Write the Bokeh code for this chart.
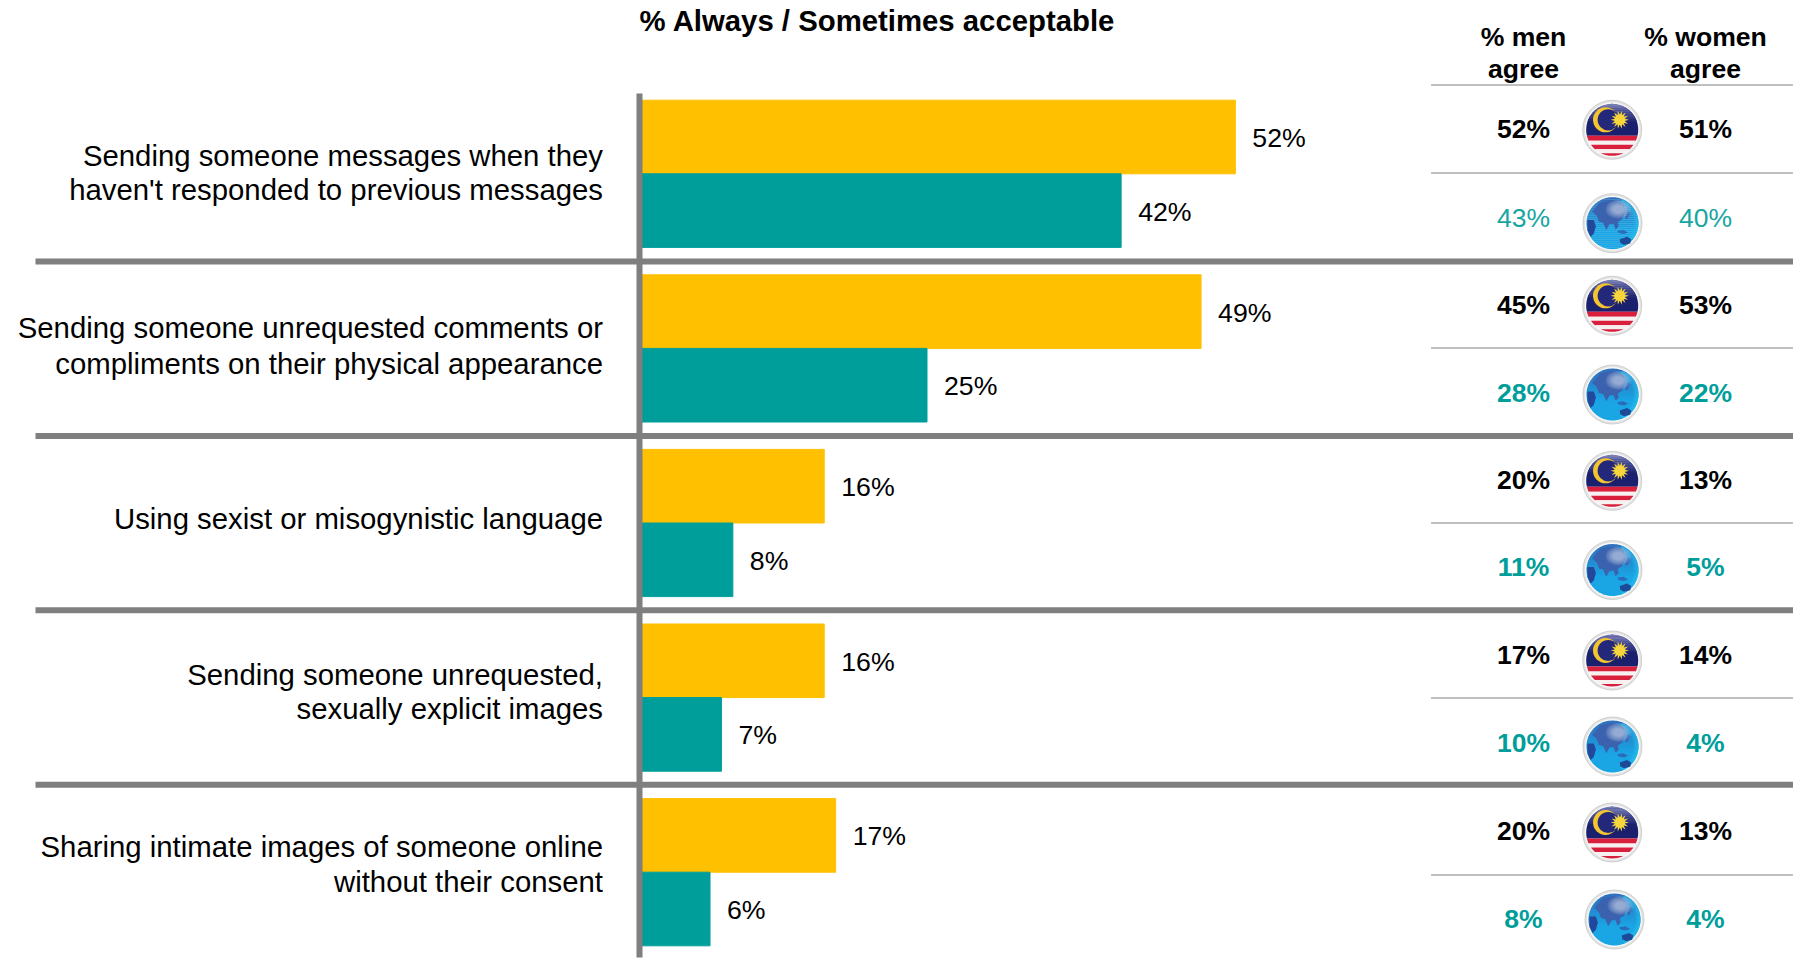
import numpy as np
from bokeh.core.properties import value
from bokeh.embed import file_html
from bokeh.models import Range1d
from bokeh.plotting import figure
from bokeh.resources import INLINE

W, H = 1793, 959
FONT = value("Liberation Sans")

statements = [
    ["Sending someone messages when they", "haven't responded to previous messages"],
    ["Sending someone unrequested comments or", "compliments on their physical appearance"],
    ["Using sexist or misogynistic language"],
    ["Sending someone unrequested,", "sexually explicit images"],
    ["Sharing intimate images of someone online", "without their consent"],
]
malaysia_total = [52, 49, 16, 16, 17]
global_total = [42, 25, 8, 7, 6]
malaysia_men = [52, 45, 20, 17, 20]
malaysia_women = [51, 53, 13, 14, 13]
global_men = [43, 28, 11, 10, 8]
global_women = [40, 22, 5, 4, 4]

YELLOW = "#FFC000"
TEAL = "#009E9B"
GREY = "#7F7F7F"
PX_PER_PCT = 11.42
ROW_PX = 174.6
SPLIT_PX = 173.3
BAR_PX = 73.6
AXIS_PX = 641.0

rows = np.arange(len(statements))
x_range = Range1d(-AXIS_PX / PX_PER_PCT, (W - AXIS_PX) / PX_PER_PCT)
y_range = Range1d((H - SPLIT_PX) / ROW_PX, -SPLIT_PX / ROW_PX)

p = figure(
    width=W, height=H, x_range=x_range, y_range=y_range,
    output_backend="svg", toolbar_location=None,
    x_axis_type="linear", min_border=0,
)
p.axis.visible = False
p.grid.visible = False
p.outline_line_color = None
p.background_fill_color = "white"
# Pixel ranges for the table, the divider rules and the round icons.
p.extra_x_ranges["px"] = Range1d(0, W)
p.extra_y_ranges["px"] = Range1d(H, 0)
PX = dict(x_range_name="px", y_range_name="px")


def label(xs, ys, texts, color="black", size="29.33px", style="normal", align="center"):
    p.text(xs, ys, text=texts, text_color=color, text_font=FONT, text_font_size=size,
           text_font_style=style, text_align=align, text_baseline="middle", **PX)


def pct(vals):
    return [f"{v}%" for v in vals]


# Bars share one value scale and sit either side of each row's split line.
bar_h = BAR_PX / ROW_PX
p.hbar(y=rows - bar_h / 2, left=0, right=malaysia_total, height=bar_h, color=YELLOW)
p.hbar(y=rows + bar_h / 2, left=0, right=global_total, height=bar_h, color=TEAL)
p.text(malaysia_total, rows - bar_h / 2, text=pct(malaysia_total), x_offset=17, y_offset=1,
       text_font=FONT, text_font_size="26.7px", text_color="black", text_baseline="middle")
p.text(global_total, rows + bar_h / 2, text=pct(global_total), x_offset=17, y_offset=1,
       text_font=FONT, text_font_size="26.7px", text_color="black", text_baseline="middle")

# Heavy rules between the statements and the vertical baseline.
rule_y = [261 + i * 174.4 for i in range(4)]
p.segment(x0=[35] * 4, x1=[W] * 4, y0=rule_y, y1=rule_y, line_color=GREY, line_width=6, **PX)
p.segment(x0=[639], x1=[639], y0=[93], y1=[957], line_color=GREY, line_width=6, **PX)

# Dotted rules of the men / women table.
dot_y = [84.5, 172.5, 347.5, 522.5, 697.5, 874.5]
p.segment(x0=[1431] * 6, x1=[W] * 6, y0=dot_y, y1=dot_y, line_color="#000000",
          line_width=1, line_dash="1 1", **PX)

# Statement labels, right-aligned against the baseline.
line_y = [[154.5, 189], [327, 362.5], [517.5], [673.5, 708], [845.5, 881]]
for lines, ys in zip(statements, line_y):
    label([602.5] * len(lines), ys, lines, align="right")

label([877], [20], ["% Always / Sometimes acceptable"], style="bold")
label([1523, 1523], [36, 68], ["% men", "agree"], size="26.6px", style="bold")
label([1705, 1705], [36, 68], ["% women", "agree"], size="26.6px", style="bold")

flag_y = [129.3, 305.3, 480.3, 660, 832]
globe_y = [222.7, 394, 569.5, 746, 919]
globe_x = [1612, 1612, 1612, 1612, 1614]
malaysia_text_y = [128.3, 304.3, 479.3, 654.5, 830.5]
global_text_y = [217.5, 392.5, 566.5, 742.5, 918.5]

label([1523] * 5, malaysia_text_y, pct(malaysia_men), style="bold", size="26.5px")
label([1705] * 5, malaysia_text_y, pct(malaysia_women), style="bold", size="26.5px")
label([1523], global_text_y[:1], pct(global_men[:1]), color="#17A6A2", size="26.5px")
label([1705], global_text_y[:1], pct(global_women[:1]), color="#17A6A2", size="26.5px")
label([1523] * 4, global_text_y[1:], pct(global_men[1:]), color=TEAL, style="bold", size="26.5px")
label([1705] * 4, global_text_y[1:], pct(global_women[1:]), color=TEAL, style="bold", size="26.5px")


def mix(c0, c1, t):
    a, b = np.array(c0), np.array(c1)
    r, g, bl = (a + (b - a) * t).astype(int)
    return f"#{r:02x}{g:02x}{bl:02x}"


def bezel(cx, cy):
    p.circle([cx], [cy], radius=29.5, fill_color="#e2e2e2", line_color="#d0d0d0", line_width=1, **PX)
    p.circle([cx], [cy], radius=27.5, fill_color="#f8f8f8", line_color=None, **PX)


def band(cx, cy, r, y0, y1, color):
    """Horizontal slice of a disc between offsets y0 and y1 below its centre."""
    ys = np.linspace(y0, y1, 16)
    half = np.sqrt(np.clip(r * r - ys * ys, 0, None))
    xs = np.concatenate([cx - half, (cx + half)[::-1]])
    yy = np.concatenate([cy + ys, (cy + ys)[::-1]])
    p.patch(xs, yy, fill_color=color, line_color=None, **PX)


def flag(cx, cy):
    r = 26.0
    bezel(cx, cy)
    band(cx, cy, r, -r, 6, "#1a1f6e")
    # Soft sheen across the upper part of the canton.
    for i in range(8):
        t = i / 8
        band(cx, cy, r, -r + i * 2.2, -r + (i + 1) * 2.2, mix((120, 125, 180), (26, 31, 110), t))
    for y0, y1, c in [(6, 11, "#d8203c"), (11, 15, "#f7f0f0"), (15, 19.5, "#d8203c"),
                      (19.5, 23.5, "#f7f0f0"), (23.5, 26, "#d8203c")]:
        band(cx, cy, r, y0, y1, c)
    # Crescent and sun.
    p.circle([cx - 6.7], [cy - 10], radius=12.5, fill_color="#f4c430", line_color=None, **PX)
    p.circle([cx - 4.0], [cy - 10], radius=10.6, fill_color="#23287a", line_color=None, **PX)
    n = 28
    ang = np.arange(n) * 2 * np.pi / n
    rad = np.where(np.arange(n) % 2 == 0, 9.2, 5.0)
    p.patch(cx + 7.6 + rad * np.cos(ang), cy - 10 + rad * np.sin(ang),
            fill_color="#f6d63c", line_color=None, **PX)


# Landmasses on the globe, as offsets in units of its radius.
asia = [(-0.78, -0.45), (-0.60, -0.28), (-0.52, -0.06), (-0.36, -0.02), (-0.24, 0.26), (-0.12, 0.04),
        (0.04, 0.02), (0.12, 0.24), (0.24, 0.12), (0.20, -0.04), (0.36, -0.14), (0.50, -0.42),
        (0.42, -0.74), (0.00, -0.90), (-0.46, -0.82)]
africa = [(-0.97, -0.12), (-0.72, -0.12), (-0.64, 0.12), (-0.72, 0.40), (-0.84, 0.52), (-0.96, 0.28)]
australia = [(0.28, 0.62), (0.56, 0.52), (0.72, 0.62), (0.68, 0.78), (0.44, 0.84), (0.30, 0.76)]
islands = [(0.18, 0.30), (0.42, 0.26), (0.60, 0.36), (0.44, 0.42), (0.24, 0.38)]
japan = [(0.58, -0.48), (0.68, -0.40), (0.56, -0.16), (0.48, -0.22)]


def globe(cx, cy):
    r = 26.0
    bezel(cx, cy)
    # Stacked slices give the vertical shading, brightest towards the bottom.
    n = 26
    edges = np.linspace(-r, r, n + 1)
    for i in range(n):
        t = i / (n - 1)
        band(cx, cy, r, edges[i], edges[i + 1] + 0.4,
             mix((48, 112, 190), (26, 165, 228), min(1.0, t * 1.6)))
    # Bright rim on the right-hand side.
    for i in range(5):
        p.annular_wedge([cx], [cy], inner_radius=r - 5 + i, outer_radius=r,
                        start_angle=-1.2, end_angle=1.2, fill_color="#28c0f0",
                        fill_alpha=0.18, line_color=None, **PX)
    for shape, color in [(asia, "#3a62ae"), (africa, "#23479a"), (australia, "#1c4a98"),
                         (islands, "#2a6cb8"), (japan, "#3a62ae")]:
        pts = np.array(shape)
        p.patch(cx + r * pts[:, 0], cy + r * pts[:, 1], fill_color=color, line_color=None, **PX)
    for i in range(6):
        p.ellipse([cx + 6], [cy - 14], width=26 - 3 * i, height=19 - 2.2 * i,
                  fill_color="#ffffff", fill_alpha=0.1, line_color=None, **PX)


for cy in flag_y:
    flag(1611.7, cy)
for cx, cy in zip(globe_x, globe_y):
    globe(cx, cy)

open("out.html", "w").write(file_html(p, INLINE))
